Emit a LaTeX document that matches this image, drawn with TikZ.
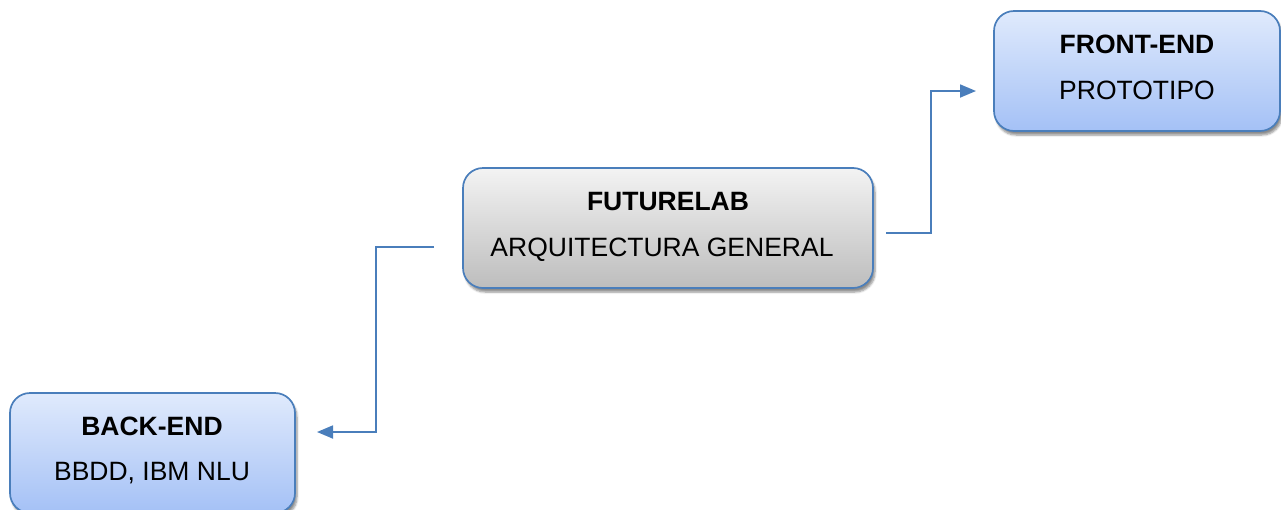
\documentclass[tikz,border=0pt]{standalone}
\usepackage{fontspec}
\setmainfont{Liberation Sans}
\usetikzlibrary{arrows.meta,shadows.blur}

\definecolor{edge}{HTML}{4A7EBB}
\definecolor{bluetop}{HTML}{E0EAFC}
\definecolor{bluebot}{HTML}{A4C1F6}
\definecolor{graytop}{HTML}{F3F3F3}
\definecolor{graybot}{HTML}{BDBDBD}

\tikzset{
  card/.style={draw=edge, line width=1.7pt, rounded corners=20pt,
    blur shadow={shadow xshift=2pt, shadow yshift=-4pt, shadow blur steps=6, shadow opacity=45}},
  bluecard/.style={card, top color=bluetop, bottom color=bluebot},
  graycard/.style={card, top color=graytop, bottom color=graybot},
  head/.style={anchor=base, font=\fontsize{26.5}{30}\selectfont\bfseries, text=black, inner sep=0pt},
  sub/.style={anchor=base, font=\fontsize{26.5}{30}\selectfont, text=black, inner sep=0pt},
  link/.style={draw=edge, line width=1.8pt, -{Triangle[length=16pt,width=13pt]}}
}

\begin{document}
\begin{tikzpicture}[x=1pt,y=-1pt]
\useasboundingbox (0,0) rectangle (1281,509);

% central block
\path[graycard] (463,168) rectangle (873,288);
\node[head] (labtitle) at (668,210) {FUTURELAB};
\node[sub]  (labsub)   at (662,256) {ARQUITECTURA GENERAL};

% front-end block
\path[bluecard] (994,11) rectangle (1280,131);
\node[head] (fronttitle) at (1137,53) {FRONT-END};
\node[sub]  (frontsub)   at (1137,99) {PROTOTIPO};

% back-end block (runs past the lower edge)
\path[bluecard] (10,393) rectangle (295,513);
\node[head] (backtitle) at (152,435) {BACK-END};
\node[sub]  (backsub)   at (152,480) {BBDD, IBM NLU};

% connector end points
\coordinate (fromlabR) at (886,233);
\coordinate (tofront)  at (976,91);
\coordinate (fromlabL) at (434,247);
\coordinate (toback)   at (317,432);

\draw[link] (fromlabR) -| (931,91) -- (tofront);
\draw[link] (fromlabL) -| (376,432) -- (toback);
\end{tikzpicture}
\end{document}
